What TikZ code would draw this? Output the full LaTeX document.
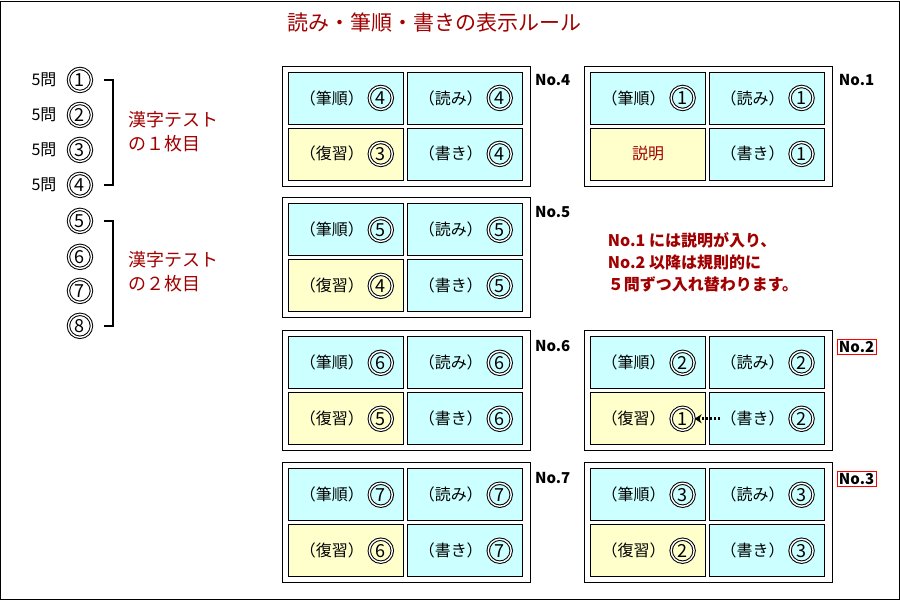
\documentclass[tikz,border=0pt]{standalone}
\usepackage{fontspec}
\setmainfont{Noto Sans CJK JP}
\usetikzlibrary{arrows.meta}
\definecolor{dred}{HTML}{A00000}
\definecolor{cy}{HTML}{CCFFFF}
\definecolor{ye}{HTML}{FFFFCC}
\tikzset{
  cellbox/.style={draw,line width=0.8pt,minimum width=115pt,minimum height=52pt,inner sep=0},
  cardbox/.style={draw,line width=0.8pt,minimum width=248pt,minimum height=120pt,inner sep=0},
  dcirc/.style={circle,draw,double,double distance=1.4pt,line width=1pt,minimum size=23pt,inner sep=0,font=\fontsize{18}{18}\selectfont},
  lab/.style={font=\fontsize{16}{16}\selectfont,inner sep=0},
  nolab/.style={font=\bfseries\fontsize{15}{15}\selectfont,inner sep=2pt},
  redtxt/.style={text=dred,font=\fontsize{18}{24}\selectfont,inner sep=0,anchor=west},
}
\newcommand\mycell[6]{%
  \node[cellbox,fill=#4] (#1) at (#2+57.5,#3+26) {};
  \node[lab] (#1l) at (#2+43,#3+26) {#5};
  \node[dcirc] (#1c) at (#2+92,#3+26) {#6};}
\newcommand\mycard[7]{%
  \node[cardbox] (#1) at (#2+124,#3+60) {};
  \mycell{#1a}{#2+6}{#3+6}{cy}{（筆順）}{#4}
  \mycell{#1b}{#2+125}{#3+6}{cy}{（読み）}{#5}
  \mycell{#1c}{#2+6}{#3+62}{ye}{（復習）}{#6}
  \mycell{#1d}{#2+125}{#3+62}{cy}{（書き）}{#7}}
\begin{document}
\begin{tikzpicture}[x=1pt,y=-1pt]
\node[draw,line width=1pt,minimum width=899pt,minimum height=599pt,anchor=north west,inner sep=0] (frame) at (0.5,0.5) {};
\useasboundingbox (0,0) rectangle (900,600);
\node[text=dred,font=\fontsize{21}{21}\selectfont] (title) at (435,23) {読み・筆順・書きの表示ルール};
\foreach \n/\y [count=\i] in {1/80,2/115,3/150,4/185,5/221,6/257,7/291,8/326}{
  \node[dcirc] (L\i) at (80,\y) {\n};}
\foreach \i/\y in {1/80,2/115,3/150,4/185}{
  \node[font=\fontsize{16}{16}\selectfont,inner sep=0] (q\i) at (44,\y) {5問};}
\coordinate (b1a) at (104,80); \coordinate (b1b) at (104,185);
\coordinate (b2a) at (104,221); \coordinate (b2b) at (104,326);
\draw[line width=1.5pt] (b1a) -| (113,185) -- (b1b);
\draw[line width=1.5pt] (b2a) -| (113,326) -- (b2b);
\node[redtxt,align=left] (t1) at (128,132) {漢字テスト\\の１枚目};
\node[redtxt,align=left] (t2) at (128,272) {漢字テスト\\の２枚目};
\mycard{k4}{283}{66}{4}{4}{3}{4}
\mycard{k5}{283}{198}{5}{5}{4}{5}
\mycard{k6}{283}{331}{6}{6}{5}{6}
\mycard{k7}{283}{463}{7}{7}{6}{7}
\node[cardbox] (k1) at (585+124,66+60) {};
\mycell{k1a}{591}{72}{cy}{（筆順）}{1}
\mycell{k1b}{710}{72}{cy}{（読み）}{1}
\node[cellbox,fill=ye] (k1c) at (591+57.5,128+26) {};
\node[lab,text=dred] (k1cl) at (k1c) {説明};
\mycell{k1d}{710}{128}{cy}{（書き）}{1}
\mycard{k2}{585}{331}{2}{2}{1}{2}
\mycard{k3}{585}{463}{3}{3}{2}{3}
\node[nolab] (n4) at (553,80) {No.4};
\node[nolab] (n5) at (553,212) {No.5};
\node[nolab] (n6) at (553,346) {No.6};
\node[nolab] (n7) at (553,478) {No.7};
\node[nolab] (n1) at (857,80) {No.1};
\node[nolab,draw=red,line width=0.8pt] (n2) at (857,347) {No.2};
\node[nolab,draw=red,line width=0.8pt] (n3) at (857,479) {No.3};
\node[redtxt,font=\bfseries\fontsize{16}{16}\selectfont] (m1) at (608,240) {No.1 には説明が入り、};
\node[redtxt,font=\bfseries\fontsize{16}{16}\selectfont] (m2) at (608,263) {No.2 以降は規則的に};
\node[redtxt,font=\bfseries\fontsize{16}{16}\selectfont] (m3) at (608,285) {５問ずつ入れ替わります。};
\draw[line width=3pt,dash pattern=on 2.5pt off 1.5pt,-{Stealth[length=7pt,width=9pt]}] (k2dl.west) -- (k2cc.east);
\end{tikzpicture}
\end{document}
